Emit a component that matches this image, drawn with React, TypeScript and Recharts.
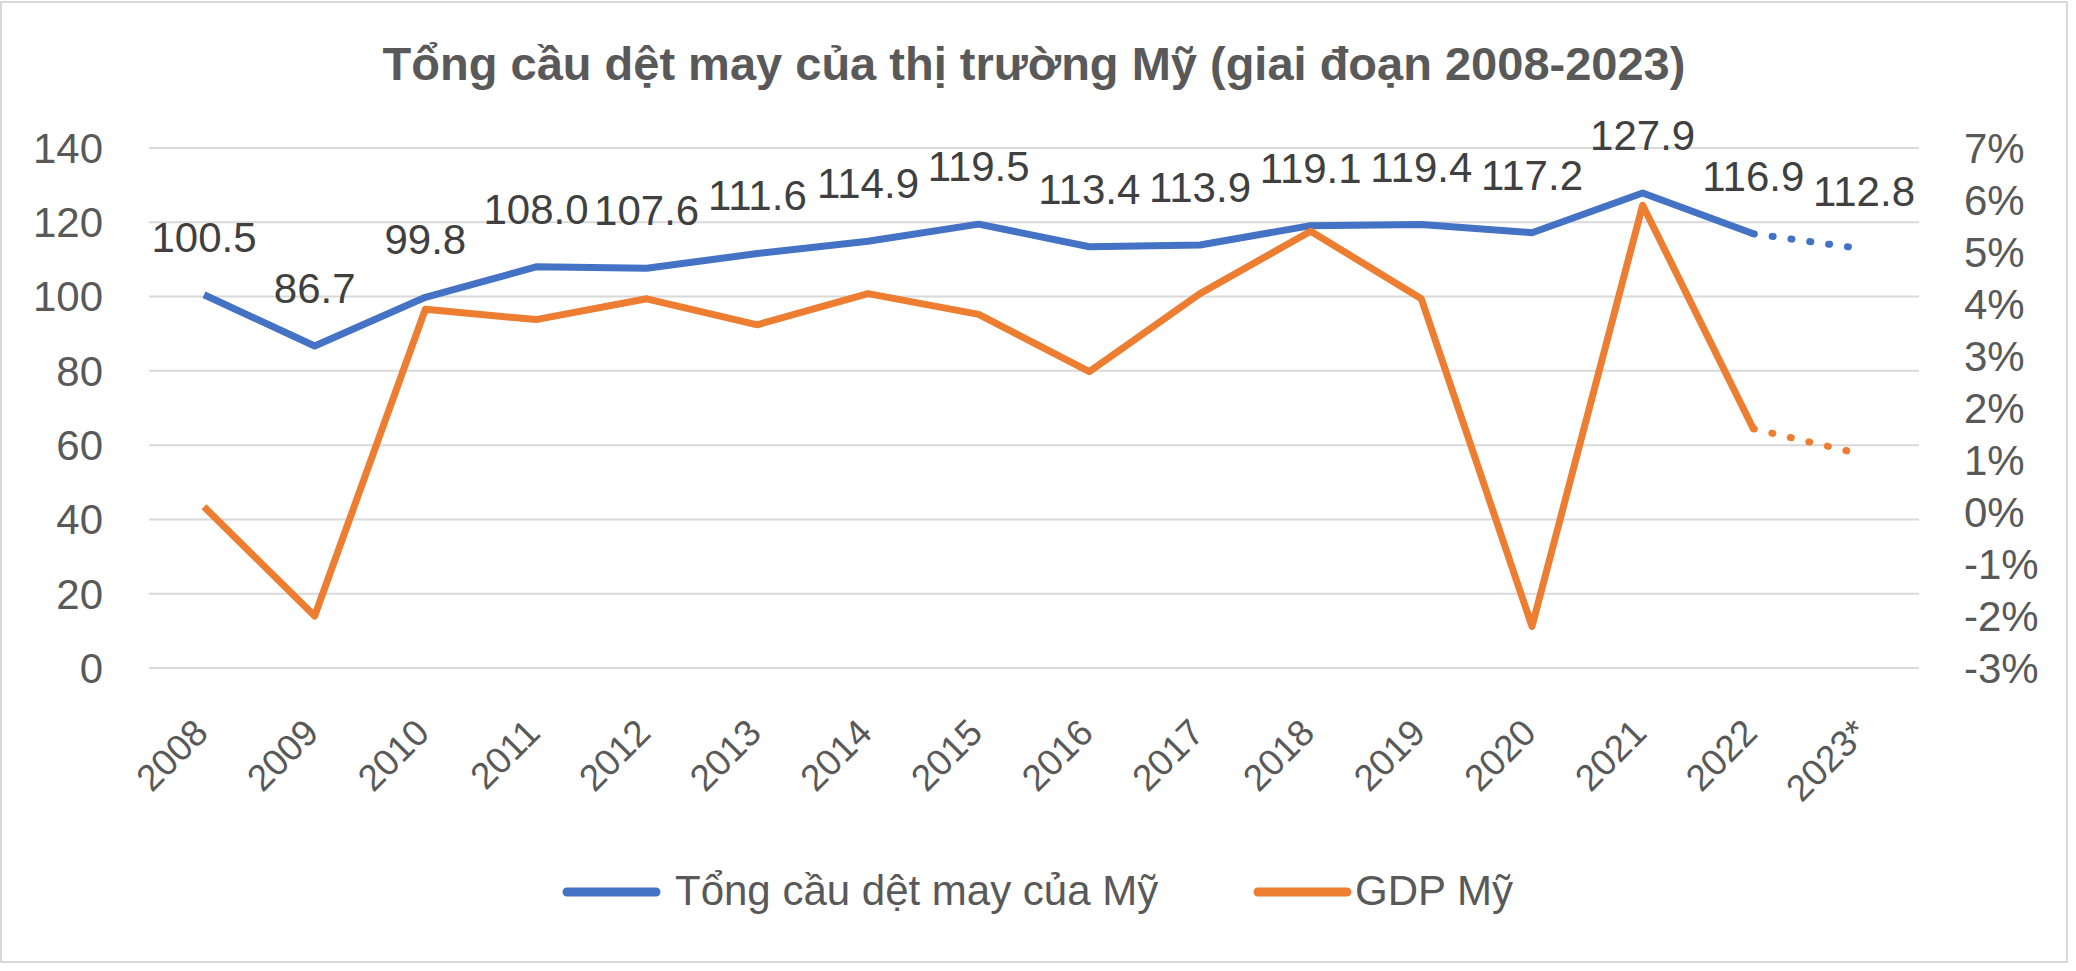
import { CartesianGrid, LabelList, Line, LineChart, XAxis, YAxis } from "recharts";

const YEARS = [
  "2008", "2009", "2010", "2011", "2012", "2013", "2014", "2015",
  "2016", "2017", "2018", "2019", "2020", "2021", "2022", "2023*"
];
// Tổng cầu dệt may (left axis)
const DEMAND = [
  100.5, 86.7, 99.8, 108.0, 107.6, 111.6, 114.9, 119.5,
  113.4, 113.9, 119.1, 119.4, 117.2, 127.9, 116.9, 112.8
];
// GDP growth, % (right axis)
const GDP = [0.1, -2.0, 3.9, 3.7, 4.1, 3.6, 4.2, 3.8, 2.7, 4.2, 5.4, 4.1, -2.2, 5.9, 1.6, 1.1];
// from this index on the series is a forecast (dotted)
const FORECAST_FROM = 14;

const LEFT_TICKS = [0, 20, 40, 60, 80, 100, 120, 140];
const RIGHT_TICKS = [-3, -2, -1, 0, 1, 2, 3, 4, 5, 6, 7];

const TITLE = "Tổng cầu dệt may của thị trường Mỹ (giai đoạn 2008-2023)";
const SERIES_NAMES = ["Tổng cầu dệt may của Mỹ", "GDP Mỹ"];

const BLUE = "#4472C4";
const ORANGE = "#ED7D31";
const TEXT = "#595959";
const FONT = "'Liberation Sans', Arial, sans-serif";

const rows = YEARS.map((year, i) => ({
  year,
  demand: i <= FORECAST_FROM ? DEMAND[i] : null,
  demandForecast: i >= FORECAST_FROM ? DEMAND[i] : null,
  gdp: i <= FORECAST_FROM ? GDP[i] : null,
  gdpForecast: i >= FORECAST_FROM ? GDP[i] : null
}));

function YearTick(props: any) {
  const { x, y, payload } = props;
  const ax = x + 6;
  const ay = y + 67;
  return (
    <text
      x={ax}
      y={ay}
      transform={`rotate(-45, ${ax}, ${ay})`}
      textAnchor="end"
      fontSize={37}
      fontFamily={FONT}
      fill={TEXT}
    >
      {payload.value}
    </text>
  );
}

function makeValueLabel(skipFirst: boolean) {
  return (props: any) => {
    const { index, value } = props;
    const x = props.x ?? props.viewBox?.x;
    const y = props.y ?? props.viewBox?.y;
    if (value == null || (skipFirst && index === FORECAST_FROM)) return null;
    return (
      <text x={x} y={y - 43} textAnchor="middle" fontSize={42} fontFamily={FONT} fill="#404040">
        {Number(value).toFixed(1)}
      </text>
    );
  };
}

export default function App() {
  return (
    <div style={{ position: "absolute", left: 0, top: 0, width: 2076, height: 971, background: "#fff" }}>
      <div
        style={{
          position: "absolute",
          left: 0,
          top: 1,
          width: 2068,
          height: 962,
          boxSizing: "border-box",
          border: "2px solid #d9d9d9"
        }}
      />
      <div style={{ position: "absolute", left: 0, top: 0 }}>
        <LineChart width={2068} height={962} data={rows} margin={{ top: 148, right: 0, bottom: 0, left: 0 }}>
          <CartesianGrid yAxisId="left" vertical={false} stroke="#d9d9d9" strokeWidth={2} />
          <XAxis
            dataKey="year"
            scale="point"
            padding={{ left: 55, right: 55 }}
            height={294}
            axisLine={false}
            tickLine={false}
            tickSize={0}
            tickMargin={0}
            interval={0}
            tick={<YearTick />}
          />
          <YAxis
            yAxisId="left"
            orientation="left"
            width={149}
            domain={[0, 140]}
            ticks={LEFT_TICKS}
            interval={0}
            axisLine={false}
            tickLine={false}
            tickSize={0}
            tickMargin={46}
            tick={{ fontSize: 42, fontFamily: FONT, fill: TEXT }}
          />
          <YAxis
            yAxisId="right"
            orientation="right"
            width={149}
            domain={[-3, 7]}
            ticks={RIGHT_TICKS}
            interval={0}
            axisLine={false}
            tickLine={false}
            tickSize={0}
            tickMargin={45}
            tickFormatter={(v) => `${v}%`}
            tick={{ fontSize: 42, fontFamily: FONT, fill: TEXT }}
          />
          <Line
            yAxisId="left"
            dataKey="demand"
            name={SERIES_NAMES[0]}
            stroke={BLUE}
            strokeWidth={7}
            strokeLinejoin="round"
            dot={false}
            activeDot={false}
            isAnimationActive={false}
          >
            <LabelList dataKey="demand" content={makeValueLabel(false)} />
          </Line>
          <Line
            yAxisId="left"
            dataKey="demandForecast"
            stroke={BLUE}
            strokeWidth={7}
            strokeDasharray="1 18"
            strokeLinecap="round"
            dot={false}
            activeDot={false}
            isAnimationActive={false}
          >
            <LabelList dataKey="demandForecast" content={makeValueLabel(true)} />
          </Line>
          <Line
            yAxisId="right"
            dataKey="gdp"
            name={SERIES_NAMES[1]}
            stroke={ORANGE}
            strokeWidth={7}
            strokeLinejoin="round"
            dot={false}
            activeDot={false}
            isAnimationActive={false}
          />
          <Line
            yAxisId="right"
            dataKey="gdpForecast"
            stroke={ORANGE}
            strokeWidth={7}
            strokeDasharray="1 18"
            strokeLinecap="round"
            dot={false}
            activeDot={false}
            isAnimationActive={false}
          />
        </LineChart>
      </div>
      <svg
        width={2076}
        height={971}
        style={{ position: "absolute", left: 0, top: 0, pointerEvents: "none" }}
      >
        <text x={1034} y={80} textAnchor="middle" fontSize={47} fontWeight="bold" fontFamily={FONT} fill={TEXT}>
          {TITLE}
        </text>
        <line x1={567} y1={892} x2={656} y2={892} stroke={BLUE} strokeWidth={9} strokeLinecap="round" />
        <text x={675} y={905} fontSize={42} fontFamily={FONT} fill={TEXT}>
          {SERIES_NAMES[0]}
        </text>
        <line x1={1258} y1={892} x2={1347} y2={892} stroke={ORANGE} strokeWidth={9} strokeLinecap="round" />
        <text x={1355} y={905} fontSize={42} fontFamily={FONT} fill={TEXT}>
          {SERIES_NAMES[1]}
        </text>
      </svg>
    </div>
  );
}
